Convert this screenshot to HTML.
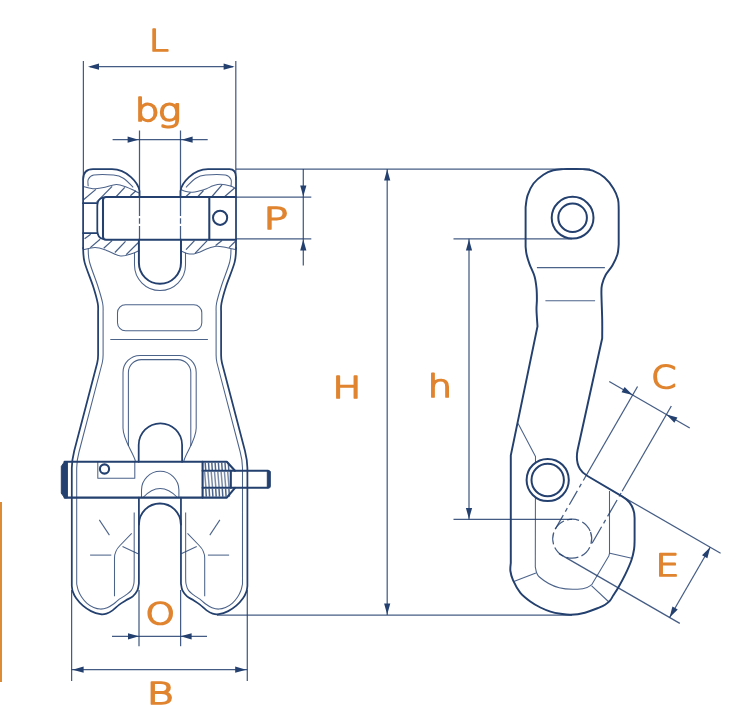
<!DOCTYPE html>
<html lang="en">
<head>
<meta charset="utf-8">
<title>Dimensions</title>
<style>
html,body{margin:0;padding:0;background:#fff;}
body{width:742px;height:710px;overflow:hidden;position:relative;font-family:"Liberation Sans",sans-serif;}
svg{position:absolute;left:0;top:0;display:block;will-change:transform;}
.k{fill:none;stroke:#23406f;stroke-width:1.75;stroke-linecap:round;stroke-linejoin:round;}
.m{fill:none;stroke:#23406f;stroke-width:1.3;stroke-linecap:butt;stroke-linejoin:round;}
.t{fill:none;stroke:#23406f;stroke-opacity:.82;stroke-width:1.05;stroke-linecap:butt;stroke-linejoin:round;}
.h{fill:none;stroke:#23406f;stroke-opacity:.85;stroke-width:1.2;}
.d{fill:none;stroke:#23406f;stroke-opacity:.85;stroke-width:1.25;}
.a{fill:#23406f;stroke:none;}
.f{fill:#23406f;stroke:#23406f;stroke-width:1;stroke-linejoin:round;}
text{font-family:"DejaVu Sans Light","DejaVu Sans","Liberation Sans",sans-serif;font-weight:200;fill:#e0842f;stroke:#e0842f;stroke-width:1.7;stroke-linejoin:round;stroke-linecap:round;vector-effect:non-scaling-stroke;text-rendering:geometricPrecision;}
.bar{position:absolute;left:0;top:502px;width:2px;height:180px;background:#dd8c35;}
</style>
</head>
<body>
<div class="bar"></div>
<svg width="742" height="710" viewBox="0 0 742 710">
<path class="d" d="M83.4,61 L83.4,180"/>
<path class="d" d="M235.8,61 L235.8,180"/>
<path class="d" d="M90,66.7 L233,66.7"/>
<path class="a" d="M88,66.7 L99,63.6 L99,69.8Z"/>
<path class="a" d="M234.6,66.7 L223.6,69.8 L223.6,63.6Z"/>
<path class="d" d="M139.5,130.5 L139.5,197"/>
<path class="d" d="M180.5,130.5 L180.5,197"/>
<path class="d" d="M112.6,139.7 L207.7,139.7"/>
<path class="a" d="M138.6,139.7 L127.6,142.8 L127.6,136.6Z"/>
<path class="a" d="M181.6,139.7 L192.6,136.6 L192.6,142.8Z"/>
<path class="d" d="M236,169.1 L590,169.1"/>
<path class="d" d="M217,615 L572,615"/>
<path class="d" d="M387.2,169.1 L387.2,615"/>
<path class="a" d="M387.2,169.5 L390.3,180.5 L384.1,180.5Z"/>
<path class="a" d="M387.2,614.6 L384.1,603.6 L390.3,603.6Z"/>
<path class="d" d="M236,197 L311.3,197"/>
<path class="d" d="M236,238.9 L311.3,238.9"/>
<path class="d" d="M303.3,169.1 L303.3,265.4"/>
<path class="a" d="M303.3,196.4 L300.2,185.4 L306.4,185.4Z"/>
<path class="a" d="M303.3,239.4 L306.4,250.4 L300.2,250.4Z"/>
<path class="d" d="M453.5,238.8 L572,238.8"/>
<path class="d" d="M453.5,519.4 L572,519.4"/>
<path class="d" d="M469,238.8 L469,519.4"/>
<path class="a" d="M469,239.6 L472.1,250.6 L465.9,250.6Z"/>
<path class="a" d="M469,519 L465.9,508 L472.1,508Z"/>
<path class="d" d="M139,590 L139,646.2"/>
<path class="d" d="M180.6,590 L180.6,646.2"/>
<path class="d" d="M112,636.3 L207,636.3"/>
<path class="a" d="M139,636.3 L128,639.4 L128,633.2Z"/>
<path class="a" d="M180.6,636.3 L191.6,633.2 L191.6,639.4Z"/>
<path class="d" d="M71.6,590 L71.6,681"/>
<path class="d" d="M247.3,590 L247.3,681"/>
<path class="d" d="M71.6,669.7 L247.3,669.7"/>
<path class="a" d="M72.6,669.7 L83.6,666.6 L83.6,672.8Z"/>
<path class="a" d="M246.2,669.7 L235.2,672.8 L235.2,666.6Z"/>
<path class="k" d="M139.5,197 L139.5,191 C138.5,183 127,169.1 112,169.1 L93,169.1 C86.5,169.1 83.1,173 83.1,179.5 L83.1,248"/>
<path class="k" d="M180.5,197 L180.5,191 C181.5,183 193,169.1 208,169.1 L229.5,169.1 C233.8,169.1 236,172 236,177.5 L236,248"/>
<path class="k" d="M83.1,248 C83.35,250.4 82.93,256.02 84.6,262.4 C86.27,268.78 90.92,279.5 93.1,286.3 C95.28,293.1 96.87,298.92 97.7,303.2 C98.53,307.48 98.03,310.53 98.1,312 L98.1,355 C98.1,358 97.8,360.5 97.2,363 L74.2,451 C72.6,457.5 71.8,462 71.8,468 L71.8,586 C71.97,586.93 72.07,589.55 72.8,591.6 C73.53,593.65 74.52,595.95 76.2,598.3 C77.88,600.65 80.43,603.57 82.9,605.7 C85.37,607.83 88.08,609.68 91,611.1 C93.92,612.52 97.82,613.77 100.4,614.2 C102.98,614.63 104.47,614.33 106.5,613.7 C108.53,613.07 110.47,611.92 112.6,610.4 C114.73,608.88 117.07,606.28 119.3,604.6 C121.53,602.92 123.75,601.68 126,600.3 C128.25,598.92 130.9,597.95 132.8,596.3 C134.7,594.65 136.38,592.53 137.4,590.4 C138.42,588.27 138.65,584.65 138.9,583.5 L138.9,497.7"/>
<path class="k" d="M236.1,248 C235.85,250.4 236.27,256.02 234.6,262.4 C232.93,268.78 228.28,279.5 226.1,286.3 C223.92,293.1 222.33,298.92 221.5,303.2 C220.67,307.48 221.17,310.53 221.1,312 L221.1,355 C221.1,358 221.4,360.5 222,363 L245,451 C246.6,457.5 247.4,462 247.4,468 L247.4,586 C247.23,586.93 247.13,589.55 246.4,591.6 C245.67,593.65 244.68,595.95 243,598.3 C241.32,600.65 238.77,603.57 236.3,605.7 C233.83,607.83 231.12,609.68 228.2,611.1 C225.28,612.52 221.38,613.77 218.8,614.2 C216.22,614.63 214.73,614.33 212.7,613.7 C210.67,613.07 208.73,611.92 206.6,610.4 C204.47,608.88 202.13,606.28 199.9,604.6 C197.75,602.92 195.65,601.68 193.52,600.3 C191.4,598.92 188.89,597.95 187.05,596.3 C185.15,594.65 183.47,592.53 182.45,590.4 C181.43,588.27 181.2,584.65 180.95,583.5 L180.95,497.7"/>
<path class="t" d="M88.2,249 C88.42,251.17 87.9,255.83 89.5,262 C91.1,268.17 95.62,279.17 97.8,286 C99.98,292.83 101.72,298.67 102.6,303 C103.48,307.33 103.02,310.5 103.1,312 L103.1,355 C103.1,358 102.8,360.5 102.2,363 L79,452 C77.4,458 76.7,462 76.7,468 L76.7,584 C76.95,585.03 77.38,588.03 78.2,590.2 C79.02,592.37 80.13,594.8 81.6,597 C83.07,599.2 84.98,601.63 87,603.4 C89.02,605.17 91.47,606.65 93.7,607.6 C95.93,608.55 98.15,609.08 100.4,609.1 C102.65,609.12 104.95,608.6 107.2,607.7 C109.45,606.8 111.88,605.12 113.9,603.7 C115.92,602.28 117.28,600.67 119.3,599.2 C121.32,597.73 124,596.37 126,594.9 C128,593.43 130,592.22 131.3,590.4 C132.6,588.58 133.32,586.23 133.8,584 C134.28,581.77 134.13,578.17 134.2,577 L134.2,512.5"/>
<path class="t" d="M231,249 C230.78,251.17 231.3,255.83 229.7,262 C228.1,268.17 223.58,279.17 221.4,286 C219.22,292.83 217.48,298.67 216.6,303 C215.72,307.33 216.18,310.5 216.1,312 L216.1,355 C216.1,358 216.4,360.5 217,363 L240.2,452 C241.8,458 242.5,462 242.5,468 L242.5,584 C242.25,585.03 241.82,588.03 241,590.2 C240.18,592.37 239.07,594.8 237.6,597 C236.13,599.2 234.22,601.63 232.2,603.4 C230.18,605.17 227.73,606.65 225.5,607.6 C223.27,608.55 221.05,609.08 218.8,609.1 C216.55,609.12 214.25,608.6 212,607.7 C209.75,606.8 207.32,605.12 205.3,603.7 C203.28,602.28 201.92,600.67 199.9,599.2 C197.95,597.73 195.42,596.37 193.52,594.9 C191.63,593.43 189.74,592.22 188.51,590.4 C187.25,588.58 186.53,586.23 186.05,584 C185.57,581.77 185.72,578.17 185.65,577 L185.65,512.5"/>
<path class="t" d="M88.2,186.2 C88.2,185.1 87.27,181.45 88.2,179.6 C89.13,177.75 89.58,175.85 93.8,175.1 C98.02,174.35 108.57,174.58 113.5,175.1 C118.43,175.62 120.12,176.17 123.4,178.2 C126.68,180.23 131.57,185.78 133.2,187.3"/>
<path class="t" d="M231,186.2 C231,185.1 231.93,181.45 231,179.6 C230.07,177.75 229.62,175.85 225.4,175.1 C221.18,174.35 210.63,174.58 205.7,175.1 C200.77,175.62 199.08,176.17 195.8,178.2 C192.52,180.23 187.63,185.78 186,187.3"/>
<path class="t" d="M83.2,186.6 C84.17,186.82 87,187.55 89,187.9 C91,188.25 92.53,188.8 95.2,188.7 C97.87,188.6 101.48,188 105,187.3 C108.52,186.6 112.77,184.57 116.3,184.5 C119.83,184.43 123.15,185.85 126.2,186.9 C129.25,187.95 132.47,189.78 134.6,190.8 C136.73,191.82 138.27,192.63 139,193"/>
<path class="t" d="M180.8,189.6 C181.67,189.93 184.07,191.15 186,191.6 C187.93,192.05 190.23,192.4 192.4,192.3 C194.57,192.2 196.65,191.6 199,191 C201.35,190.4 204.17,189.57 206.5,188.7 C208.83,187.83 210.65,186.55 213,185.8 C215.35,185.05 217.7,184.18 220.6,184.2 C223.5,184.22 227.83,185.15 230.4,185.9 C232.97,186.65 235.07,188.23 236,188.7"/>
<path class="t" d="M83.2,249.7 C85.2,249.35 91.32,247.48 95.2,247.6 C99.08,247.72 102.27,249 106.5,250.4 C110.73,251.8 116.15,255.53 120.6,256 C125.05,256.47 130.08,254.12 133.2,253.2 C136.32,252.28 138.28,250.95 139.3,250.5"/>
<path class="t" d="M181.1,251.1 C182.08,251.48 184.88,252.93 187,253.4 C189.12,253.87 191.63,254.13 193.8,253.9 C195.97,253.67 197.88,252.82 200,252 C202.12,251.18 203.78,249.97 206.5,249 C209.22,248.03 213.02,246.43 216.3,246.2 C219.58,245.97 222.92,247.02 226.2,247.6 C229.48,248.18 234.37,249.35 236,249.7"/>
<path class="k" d="M138.9,239.7 L138.9,262.75 A21.05,21.05 0 0 0 181,262.75 L181,239.7" style="stroke-width:1.95"/>
<path class="t" d="M134.5,252.8 L134.5,265 A25.5,25.5 0 0 0 185.5,265 L185.5,252.8"/>
<rect class="t" x="117.5" y="304.8" width="84.3" height="26" rx="8" ry="8"/>
<path class="t" d="M110.3,339.4 L207.9,339.4"/>
<path class="t" d="M135.4,461 C133,452 123,440 123,428 L123,372.4 A17,17 0 0 1 140,355.4 L179.2,355.4 A17,17 0 0 1 196.2,372.4 L196.2,428 C196.2,440 186.2,452 183.8,461"/>
<path class="t" d="M128.4,446 L128.4,372.6 A13,13 0 0 1 141.4,359.6 L177.8,359.6 A13,13 0 0 1 190.8,372.6 L190.8,446"/>
<path class="k" d="M138.7,461.8 L138.7,445 A21.7,21.7 0 0 1 182.1,445 L182.1,461.8"/>
<path class="k" d="M236,196.9 L106,196.9 Q103,196.9 103,199.9 L103,236.7 Q103,239.7 106,239.7 L236,239.7" style="stroke-width:2.05"/>
<path class="k" d="M209.3,197 L209.3,239.5" style="stroke-width:2.05"/>
<circle class="k" cx="220.1" cy="217.8" r="7.1" style="stroke-width:2"/>
<path class="k" d="M83,203.2 L97.3,203.2"/>
<path class="k" d="M83,233.1 L97.3,233.1"/>
<path class="k" d="M103,197.5 Q97.3,199 97.3,206 L97.3,230.5 Q97.3,237.5 103,239"/>
<path class="d" d="M139.5,197 L139.5,239.5" stroke-dasharray="19 2.3 5.5 2.3 30"/>
<path class="d" d="M180.5,197 L180.5,239.5" stroke-dasharray="19 2.3 5.5 2.3 30"/>
<path class="h" d="M83.2,200 L95.9,189.4"/>
<path class="h" d="M96.6,202.1 L112.1,186.3"/>
<path class="h" d="M116.3,196.5 L124.8,187.3"/>
<path class="h" d="M130.4,195.8 L136,190.8"/>
<path class="h" d="M186,196.5 L190.5,192.5"/>
<path class="h" d="M198,196.5 L203.5,190.5"/>
<path class="h" d="M212,196.5 L222,184.8"/>
<path class="h" d="M224.8,196.5 L234.6,188"/>
<path class="h" d="M84.6,238.7 L90.7,234.2"/>
<path class="h" d="M90.3,247.6 L100.1,239.2"/>
<path class="h" d="M103.7,248.3 L112.1,240.6"/>
<path class="h" d="M114.9,252.5 L125.5,241.3"/>
<path class="h" d="M126.2,254.6 L138.2,242.7"/>
<path class="h" d="M186,249.7 L194.5,240.6"/>
<path class="h" d="M195.2,253.2 L207.2,240.6"/>
<path class="h" d="M215.6,245.5 L222,240.6"/>
<path class="h" d="M229,247.6 L235.4,241.3"/>
<path class="k" d="M64.6,461.8 L226.8,461.8 L235,470.8" style="stroke-width:2.1"/>
<path class="k" d="M64.6,497.6 L226.8,497.6 L235,487.8" style="stroke-width:2.1"/>
<path class="f" d="M61.3,466.4 L64.6,461.6 L67.4,461.6 L67.4,497.8 L64.6,497.8 L61.3,493.2 Z"/>
<path class="k" d="M202.6,461.8 L202.6,497.6" style="stroke-width:2.1"/>
<path class="k" d="M202.6,470.8 L268,470.8" style="stroke-width:2.1"/>
<path class="k" d="M202.6,487.8 L268,487.8" style="stroke-width:2.1"/>
<path class="k" d="M230.8,470.8 L230.8,487.8" style="stroke-width:2.1"/>
<path class="f" d="M267.3,470.8 L269.3,470.8 Q270.3,470.8 270.3,472 L270.3,486.6 Q270.3,487.8 269.3,487.8 L267.3,487.8 Z"/>
<path class="h" style="stroke-width:1.5;stroke-opacity:0.8" d="M205.2,462.8 L205.7,470 M208.5,462.8 L209,470 M211.8,462.8 L212.3,470 M215.1,462.8 L215.6,470 M218.4,462.8 L218.9,470 M221.7,462.8 L222.2,470 M225,462.8 L225.5,470 M228.3,462.8 L228.8,470"/>
<path class="h" style="stroke-width:1.5;stroke-opacity:0.6" d="M204.6,471.8 L205.9,487 M207.9,471.8 L209.2,487 M211.2,471.8 L212.5,487 M214.5,471.8 L215.8,487 M217.8,471.8 L219.1,487 M221.1,471.8 L222.4,487 M224.4,471.8 L225.7,487 M227.7,471.8 L229,487"/>
<path class="h" style="stroke-width:1.5;stroke-opacity:0.8" d="M205.8,488.8 L206.3,496.6 M209.1,488.8 L209.6,496.6 M212.4,488.8 L212.9,496.6 M215.7,488.8 L216.2,496.6 M219,488.8 L219.5,496.6 M222.3,488.8 L222.8,496.6 M225.6,488.8 L226.1,496.6 M228.9,488.8 L229.4,496.6"/>
<path class="t" d="M97.8,461.8 L97.8,478.2 L134.8,478.2 L134.8,461.8"/>
<circle class="k" cx="104.5" cy="469" r="4.6" style="stroke-width:2.1"/>
<path class="t" d="M141.5,497 L141.5,490 A18.7,18.7 0 0 1 178.9,490 L178.9,497"/>
<path class="t" d="M143,497.5 Q160,479.5 177.5,497.5"/>
<path class="k" d="M138.9,524.5 A21,21 0 0 1 180.9,524.5" style="stroke-width:1.9"/>
<path class="t" d="M99.3,519.9 L109.4,535.1"/>
<path class="t" d="M219.9,519.9 L209.8,535.1"/>
<path class="t" d="M90.1,555.1 L111.3,555.1"/>
<path class="t" d="M229.1,555.1 L207.9,555.1"/>
<path class="t" d="M131.7,533.4 L120,545.5 Q114.5,551 114.5,558 L114.5,596.2"/>
<path class="t" d="M187.5,533.4 L199.2,545.5 Q204.7,551 204.7,558 L204.7,596.2"/>
<path class="t" d="M122.5,546.6 L138,553.8"/>
<path class="t" d="M196.7,546.6 L181.2,553.8"/>
<path class="k" d="M563.1,169.1 C566.38,169.1 577.87,168.83 582.8,169.1 C587.73,169.37 589.08,169.28 592.7,170.7 C596.32,172.12 601.05,174.63 604.5,177.6 C607.95,180.57 611.15,184.88 613.4,188.5 C615.65,192.12 617.12,195.85 618,199.3 C618.88,202.75 618.58,207.55 618.7,209.2 L618.7,244.7 C618.48,246.33 618.45,251.05 617.4,254.5 C616.35,257.95 614.38,261.95 612.4,265.4 C610.42,268.85 607.2,272.08 605.5,275.2 C603.8,278.32 602.88,281.3 602.2,284.1 C601.52,286.9 601.4,286.12 601.4,292 C601.4,297.88 602.07,311.7 602.2,319.4 C602.33,327.1 602.2,335.07 602.2,338.2 L577.6,450 C576.2,457 577,464 580,469 C582,472.5 584,474 587.5,476 L622.5,496.6 C630,501 634.6,507.5 634.6,518 L634.6,540 C634.52,541.5 634.63,545.63 634.1,549 C633.57,552.37 632.87,555.97 631.4,560.2 C629.93,564.43 627.48,569.85 625.3,574.4 C623.12,578.95 620.32,583.97 618.3,587.5 C616.28,591.03 614.58,593.42 613.2,595.6 C611.82,597.78 611.35,599.08 610,600.6 C608.65,602.12 606.92,603.53 605.1,604.7 C603.28,605.87 602.47,606.27 599.1,607.6 C595.73,608.93 589.62,611.5 584.9,612.7 C580.18,613.9 574.85,614.62 570.8,614.8 C566.75,614.98 563.98,614.33 560.6,613.8 C557.22,613.27 553.87,612.65 550.5,611.6 C547.13,610.55 543.77,609.18 540.4,607.5 C537.03,605.82 533.67,603.98 530.3,601.5 C526.93,599.02 523.07,596.12 520.2,592.6 C517.33,589.08 514.73,584 513.1,580.4 C511.47,576.8 510.78,573.9 510.4,571 C510.02,568.1 510.73,564.33 510.8,563 L510.8,455.4 L537.5,326.4 C537.33,323.67 536.6,314.45 536.5,310 C536.4,305.55 536.9,303.35 536.9,299.7 C536.9,296.05 536.9,292.02 536.5,288.1 C536.1,284.18 535.65,280.15 534.5,276.2 C533.35,272.25 530.92,268.02 529.6,264.4 C528.28,260.78 527.27,257.47 526.6,254.5 C525.93,251.53 525.77,247.92 525.6,246.6 L525.6,207.2 C525.93,205.23 526.28,199.35 527.6,195.4 C528.92,191.45 530.87,186.95 533.5,183.5 C536.13,180.05 540.1,176.9 543.4,174.7 C546.7,172.5 550.02,171.23 553.3,170.3 C556.58,169.37 561.47,169.3 563.1,169.1 Z" style="stroke-width:1.95"/>
<circle class="k" cx="572.6" cy="217.7" r="20.9" style="stroke-width:2"/>
<circle class="k" cx="572.6" cy="217.7" r="14.3" style="stroke-width:2"/>
<path class="t" d="M536.9,267.6 L604.9,267.6"/>
<path class="t" d="M545.4,300.7 L595.1,300.7"/>
<path class="t" d="M518.1,423.4 L535.5,456.4 L535.3,567 C535.98,568.67 535.42,573.53 539.4,577 C543.38,580.47 551.97,585.83 559.2,587.8 C566.43,589.77 577.38,589.3 582.8,588.8 C588.22,588.3 590.22,585.47 591.7,584.8 L608.8,556 L609.5,553.3 L609.5,491"/>
<path class="t" d="M513.8,581.5 L535.9,573"/>
<path class="t" d="M591.7,585.8 L608.9,602"/>
<path class="t" d="M609.9,553.3 L631.8,558.2"/>
<circle class="k" cx="547.7" cy="480" r="21.1" style="fill:#fff;stroke-width:2"/>
<circle class="k" cx="547.7" cy="480" r="16.2" style="stroke-width:2"/>
<circle class="d" cx="572.2" cy="538.7" r="19.5" stroke-dasharray="12 3.5" transform="rotate(-20 572.2 538.7)"/>
<path class="d" d="M555.31,528.95 L585.31,476.99" stroke-dasharray="16 4 4 4"/>
<path class="d" d="M585.31,476.99 L637.56,386.49"/>
<path class="d" d="M592.09,543.25 L622.09,491.29" stroke-dasharray="19 4 4 4"/>
<path class="d" d="M622.09,491.29 L671.34,405.99"/>
<path class="d" d="M609.23,381.56 L689.77,428.06"/>
<path class="a" d="M632.61,395.06 L621.54,392.25 L624.64,386.88Z"/>
<path class="a" d="M666.39,414.56 L677.46,417.38 L674.36,422.75Z"/>
<path class="d" d="M558.99,553.59 L679.8,623.34"/>
<path class="d" d="M621,495.7 L720.59,553.2"/>
<path class="d" d="M710.2,547.2 L669.6,617.52"/>
<path class="a" d="M710.2,547.2 L707.39,558.28 L702.02,555.18Z"/>
<path class="a" d="M669.6,617.52 L672.42,606.44 L677.79,609.54Z"/>
<text transform="translate(134.8,121.3) scale(1.24,1)" font-size="31.5" x="0 18.5">bg</text>
<text transform="translate(149.02,51.16) scale(1.18,1)" font-size="29.93">L</text>
<text transform="translate(263.48,229) scale(1.37,1)" font-size="30.04">P</text>
<text transform="translate(332.39,397.61) scale(1.27,1)" font-size="30.18">H</text>
<text transform="translate(427.84,396.86) scale(1.23,1)" font-size="31.21">h</text>
<text transform="translate(651.3,388.32) scale(1.15,1)" font-size="31.05">C</text>
<text transform="translate(655.6,576.29) scale(1.22,1)" font-size="30.77">E</text>
<text transform="translate(145.62,624.4) scale(1.27,1)" font-size="29.49">O</text>
<text transform="translate(146.78,704) scale(1.36,1)" font-size="30.11">B</text>
</svg>
</body>
</html>
